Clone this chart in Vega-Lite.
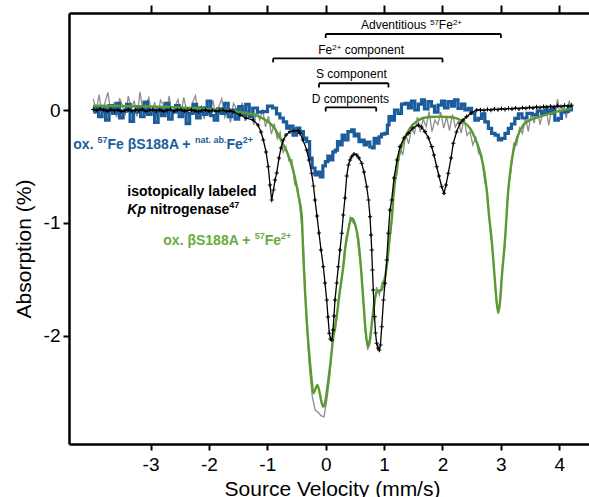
{
"$schema": "https://vega.github.io/schema/vega-lite/v6.json",
"width": 520, "height": 431,
"autosize": {"type": "none"},
"padding": {"left": 69, "top": 13, "right": 0, "bottom": 53},
"config": {
  "view": {"stroke": null},
  "axis": {"labelFont": "Liberation Sans", "titleFont": "Liberation Sans", "labelFontSize": 19, "titleFontSize": 21, "titleFontWeight": "normal", "labelColor": "#000", "titleColor": "#000", "domainColor": "#000", "tickColor": "#000", "domainWidth": 2.5, "tickWidth": 2, "tickSize": 6, "grid": false, "labelFlush": false, "labelOverlap": false}
},
"datasets": {
  "gray": [
{"v":-3.98,"a":0.098},{"v":-3.93,"a":-0.012},{"v":-3.88,"a":0.137},{"v":-3.83,"a":-0.043},{"v":-3.78,"a":0.066},{"v":-3.73,"a":0.156},{"v":-3.68,"a":-0.024},{"v":-3.63,"a":0.055},{"v":-3.58,"a":-0.065},{"v":-3.53,"a":0.105},
{"v":-3.48,"a":0.035},{"v":-3.43,"a":-0.036},{"v":-3.38,"a":0.124},{"v":-3.33,"a":0.003},{"v":-3.28,"a":0.083},{"v":-3.23,"a":-0.058},{"v":-3.18,"a":0.162},{"v":-3.13,"a":-0.009},{"v":-3.08,"a":0.041},{"v":-3.03,"a":0.111},
{"v":-2.98,"a":-0.040},{"v":-2.93,"a":0.069},{"v":-2.88,"a":-0.081},{"v":-2.83,"a":0.088},{"v":-2.78,"a":0.047},{"v":-2.73,"a":-0.024},{"v":-2.68,"a":0.126},{"v":-2.63,"a":-0.055},{"v":-2.58,"a":0.034},{"v":-2.53,"a":0.093},
{"v":-2.48,"a":-0.038},{"v":-2.43,"a":0.111},{"v":-2.38,"a":-0.011},{"v":-2.33,"a":-0.062},{"v":-2.28,"a":0.067},{"v":-2.23,"a":0.126},{"v":-2.18,"a":-0.036},{"v":-2.13,"a":0.032},{"v":-2.08,"a":-0.080},{"v":-2.03,"a":0.068},
{"v":-1.98,"a":-0.014},{"v":-1.93,"a":0.085},{"v":-1.88,"a":-0.067},{"v":-1.83,"a":0.031},{"v":-1.78,"a":0.099},{"v":-1.73,"a":-0.064},{"v":-1.68,"a":0.004},{"v":-1.63,"a":-0.109},{"v":-1.58,"a":0.059},{"v":-1.53,"a":0.015},
{"v":-1.48,"a":-0.069},{"v":-1.43,"a":0.066},{"v":-1.38,"a":-0.097},{"v":-1.33,"a":-0.012},{"v":-1.28,"a":0.023},{"v":-1.23,"a":-0.132},{"v":-1.18,"a":0.000},{"v":-1.13,"a":-0.092},{"v":-1.08,"a":0.006},{"v":-1.03,"a":-0.149},
{"v":-0.98,"a":-0.055},{"v":-0.93,"a":-0.214},{"v":-0.88,"a":-0.120},{"v":-0.83,"a":-0.255},{"v":-0.78,"a":-0.195},{"v":-0.73,"a":-0.375},{"v":-0.68,"a":-0.325},{"v":-0.63,"a":-0.450},{"v":-0.58,"a":-0.440},{"v":-0.53,"a":-0.660},
{"v":-0.48,"a":-0.685},{"v":-0.43,"a":-0.930},{"v":-0.38,"a":-1.210},{"v":-0.33,"a":-1.870},{"v":-0.28,"a":-2.280},{"v":-0.23,"a":-2.540},{"v":-0.18,"a":-2.660},{"v":-0.13,"a":-2.680},{"v":-0.08,"a":-2.710},{"v":-0.03,"a":-2.720},
{"v":0.02,"a":-2.570},{"v":0.07,"a":-2.360},{"v":0.12,"a":-2.020},{"v":0.17,"a":-1.940},{"v":0.22,"a":-1.670},{"v":0.27,"a":-1.540},{"v":0.32,"a":-1.250},{"v":0.37,"a":-1.140},{"v":0.42,"a":-0.950},{"v":0.47,"a":-1.000},
{"v":0.52,"a":-1.030},{"v":0.57,"a":-1.270},{"v":0.62,"a":-1.470},{"v":0.67,"a":-1.930},{"v":0.72,"a":-2.130},{"v":0.77,"a":-1.960},{"v":0.82,"a":-1.820},{"v":0.87,"a":-1.570},{"v":0.92,"a":-1.640},{"v":0.97,"a":-1.520},
{"v":1.02,"a":-1.510},{"v":1.07,"a":-1.230},{"v":1.12,"a":-1.080},{"v":1.17,"a":-0.660},{"v":1.22,"a":-0.575},{"v":1.27,"a":-0.332},{"v":1.32,"a":-0.400},{"v":1.37,"a":-0.210},{"v":1.42,"a":-0.300},{"v":1.47,"a":-0.165},
{"v":1.52,"a":-0.210},{"v":1.57,"a":-0.060},{"v":1.62,"a":-0.195},{"v":1.67,"a":-0.081},{"v":1.72,"a":-0.147},{"v":1.77,"a":-0.013},{"v":1.82,"a":-0.191},{"v":1.87,"a":-0.090},{"v":1.92,"a":-0.129},{"v":1.97,"a":-0.019},
{"v":2.02,"a":-0.160},{"v":2.07,"a":-0.061},{"v":2.12,"a":-0.183},{"v":2.17,"a":-0.038},{"v":2.22,"a":-0.152},{"v":2.27,"a":-0.101},{"v":2.32,"a":-0.204},{"v":2.37,"a":-0.072},{"v":2.42,"a":-0.226},{"v":2.47,"a":-0.192},
{"v":2.52,"a":-0.310},{"v":2.57,"a":-0.247},{"v":2.62,"a":-0.388},{"v":2.67,"a":-0.396},{"v":2.72,"a":-0.627},{"v":2.77,"a":-0.733},{"v":2.82,"a":-1.086},{"v":2.87,"a":-1.304},{"v":2.92,"a":-1.704},{"v":2.97,"a":-1.781},
{"v":3.02,"a":-1.420},{"v":3.07,"a":-1.202},{"v":3.12,"a":-0.713},{"v":3.17,"a":-0.552},{"v":3.22,"a":-0.295},{"v":3.27,"a":-0.310},{"v":3.32,"a":-0.160},{"v":3.37,"a":-0.208},{"v":3.42,"a":-0.069},{"v":3.47,"a":-0.190},
{"v":3.52,"a":-0.025},{"v":3.57,"a":-0.116},{"v":3.62,"a":0.032},{"v":3.67,"a":-0.129},{"v":3.72,"a":-0.021},{"v":3.77,"a":0.036},{"v":3.82,"a":-0.136},{"v":3.87,"a":0.022},{"v":3.92,"a":-0.050},{"v":3.97,"a":0.097},
{"v":4.02,"a":-0.066},{"v":4.07,"a":0.040},{"v":4.12,"a":-0.073},{"v":4.17,"a":0.083},{"v":4.22,"a":-0.005}
  ],
  "fit": [
{"v":-3.985,"a":0.038},{"v":-3.522,"a":0.035},{"v":-3.009,"a":0.031},{"v":-2.495,"a":0.022},{"v":-2.152,"a":0.013},{"v":-1.810,"a":0},{"v":-1.553,"a":-0.013},{"v":-1.382,"a":-0.027},{"v":-1.211,"a":-0.044},{"v":-1.091,"a":-0.071},
{"v":-0.983,"a":-0.104},{"v":-0.868,"a":-0.168},{"v":-0.753,"a":-0.281},{"v":-0.663,"a":-0.372},{"v":-0.582,"a":-0.488},{"v":-0.526,"a":-0.603},{"v":-0.469,"a":-0.754},{"v":-0.411,"a":-0.931},{"v":-0.384,"a":-1.285},{"v":-0.354,"a":-1.613},
{"v":-0.320,"a":-1.906},{"v":-0.269,"a":-2.234},{"v":-0.235,"a":-2.420},{"v":-0.212,"a":-2.511},{"v":-0.183,"a":-2.482},{"v":-0.144,"a":-2.438},{"v":-0.106,"a":-2.500},{"v":-0.072,"a":-2.589},{"v":-0.041,"a":-2.630},{"v":-0.012,"a":-2.597},
{"v":0.022,"a":-2.482},{"v":0.074,"a":-2.276},{"v":0.125,"a":-2.039},{"v":0.188,"a":-1.832},{"v":0.245,"a":-1.596},{"v":0.301,"a":-1.389},{"v":0.348,"a":-1.170},{"v":0.387,"a":-1.064},{"v":0.416,"a":-0.993},{"v":0.445,"a":-0.960},
{"v":0.476,"a":-0.975},{"v":0.519,"a":-1.046},{"v":0.558,"a":-1.152},{"v":0.604,"a":-1.401},{"v":0.644,"a":-1.684},{"v":0.682,"a":-1.950},{"v":0.707,"a":-2.057},{"v":0.729,"a":-2.098},{"v":0.759,"a":-2.039},{"v":0.793,"a":-1.879},
{"v":0.827,"a":-1.729},{"v":0.873,"a":-1.613},{"v":0.913,"a":-1.600},{"v":0.959,"a":-1.596},{"v":0.998,"a":-1.525},{"v":1.045,"a":-1.389},{"v":1.084,"a":-1.197},{"v":1.101,"a":-1.090},{"v":1.130,"a":-0.975},{"v":1.170,"a":-0.709},
{"v":1.221,"a":-0.505},{"v":1.272,"a":-0.370},{"v":1.358,"a":-0.248},{"v":1.443,"a":-0.160},{"v":1.546,"a":-0.106},{"v":1.666,"a":-0.071},{"v":1.786,"a":-0.062},{"v":1.957,"a":-0.059},{"v":2.094,"a":-0.062},{"v":2.243,"a":-0.074},
{"v":2.351,"a":-0.102},{"v":2.471,"a":-0.162},{"v":2.557,"a":-0.248},{"v":2.642,"a":-0.370},{"v":2.711,"a":-0.532},{"v":2.757,"a":-0.709},{"v":2.796,"a":-0.931},{"v":2.842,"a":-1.152},{"v":2.890,"a":-1.463},{"v":2.925,"a":-1.684},
{"v":2.955,"a":-1.800},{"v":2.985,"a":-1.702},{"v":3.019,"a":-1.463},{"v":3.070,"a":-1.152},{"v":3.127,"a":-0.709},{"v":3.164,"a":-0.532},{"v":3.212,"a":-0.370},{"v":3.276,"a":-0.248},{"v":3.384,"a":-0.133},{"v":3.498,"a":-0.089},
{"v":3.670,"a":-0.059},{"v":3.955,"a":-0.015},{"v":4.213,"a":0.015}
  ],
  "blue": [
{"v":-3.98,"a":-0.02},{"v":-3.92,"a":0.03},{"v":-3.86,"a":-0.06},{"v":-3.80,"a":0.01},{"v":-3.74,"a":-0.09},{"v":-3.68,"a":0.04},{"v":-3.62,"a":-0.03},{"v":-3.56,"a":0.06},{"v":-3.50,"a":-0.07},{"v":-3.44,"a":-0.01},
{"v":-3.38,"a":0.05},{"v":-3.32,"a":-0.10},{"v":-3.26,"a":-0.02},{"v":-3.20,"a":0.03},{"v":-3.14,"a":-0.06},{"v":-3.08,"a":0.07},{"v":-3.02,"a":-0.04},{"v":-2.96,"a":0.00},{"v":-2.90,"a":-0.11},{"v":-2.84,"a":0.02},
{"v":-2.78,"a":-0.05},{"v":-2.72,"a":0.06},{"v":-2.66,"a":-0.08},{"v":-2.60,"a":-0.02},{"v":-2.54,"a":0.04},{"v":-2.48,"a":-0.06},{"v":-2.42,"a":0.01},{"v":-2.36,"a":-0.12},{"v":-2.30,"a":-0.03},{"v":-2.24,"a":0.05},
{"v":-2.18,"a":-0.07},{"v":-2.12,"a":0.02},{"v":-2.06,"a":-0.04},{"v":-2.00,"a":0.08},{"v":-1.94,"a":-0.05},{"v":-1.88,"a":-0.09},{"v":-1.82,"a":0.01},{"v":-1.76,"a":-0.03},{"v":-1.70,"a":0.06},{"v":-1.64,"a":-0.06},
{"v":-1.58,"a":0.00},{"v":-1.52,"a":-0.08},{"v":-1.46,"a":0.03},{"v":-1.40,"a":-0.04},{"v":-1.34,"a":0.05},{"v":-1.28,"a":-0.06},
{"v":-1.211,"a":0.018},{"v":-1.125,"a":-0.018},{"v":-1.039,"a":-0.015},{"v":-0.954,"a":0.035},{"v":-0.868,"a":0.018},{"v":-0.817,"a":-0.035},{"v":-0.753,"a":-0.071},{"v":-0.697,"a":-0.106},{"v":-0.640,"a":-0.160},{"v":-0.594,"a":-0.142},
{"v":-0.526,"a":-0.222},{"v":-0.474,"a":-0.160},{"v":-0.411,"a":-0.192},{"v":-0.354,"a":-0.248},{"v":-0.298,"a":-0.281},{"v":-0.252,"a":-0.426},{"v":-0.212,"a":-0.514},{"v":-0.154,"a":-0.576},{"v":-0.115,"a":-0.550},{"v":-0.068,"a":-0.594},
{"v":-0.029,"a":-0.496},{"v":0.017,"a":-0.458},{"v":0.057,"a":-0.408},{"v":0.103,"a":-0.443},{"v":0.142,"a":-0.372},{"v":0.188,"a":-0.355},{"v":0.216,"a":-0.281},{"v":0.262,"a":-0.310},{"v":0.301,"a":-0.222},{"v":0.348,"a":-0.266},
{"v":0.416,"a":-0.192},{"v":0.473,"a":-0.177},{"v":0.502,"a":-0.230},{"v":0.553,"a":-0.213},{"v":0.587,"a":-0.281},{"v":0.644,"a":-0.266},{"v":0.673,"a":-0.310},{"v":0.724,"a":-0.284},{"v":0.788,"a":-0.328},{"v":0.815,"a":-0.337},
{"v":0.844,"a":-0.251},{"v":0.896,"a":-0.293},{"v":0.930,"a":-0.239},{"v":0.981,"a":-0.213},{"v":1.045,"a":-0.207},{"v":1.067,"a":-0.133},{"v":1.101,"a":-0.059},{"v":1.152,"a":-0.089},{"v":1.204,"a":0.000},{"v":1.272,"a":-0.029},
{"v":1.324,"a":0.053},{"v":1.387,"a":0.059},{"v":1.443,"a":0.018},{"v":1.495,"a":0.080},{"v":1.558,"a":0.000},{"v":1.615,"a":0.053},{"v":1.666,"a":0.089},{"v":1.717,"a":0.009},{"v":1.786,"a":0.074},{"v":1.837,"a":0.035},
{"v":1.889,"a":-0.018},{"v":1.957,"a":0.044},{"v":2.009,"a":0.080},{"v":2.060,"a":0.018},{"v":2.128,"a":0.074},{"v":2.180,"a":0.035},{"v":2.231,"a":0.089},{"v":2.300,"a":0.015},{"v":2.351,"a":0.053},{"v":2.414,"a":0.000},
{"v":2.471,"a":0.015},{"v":2.522,"a":-0.027},{"v":2.586,"a":-0.089},{"v":2.642,"a":-0.074},{"v":2.693,"a":-0.035},{"v":2.757,"a":-0.106},{"v":2.813,"a":-0.162},{"v":2.870,"a":-0.207},{"v":2.928,"a":-0.222},{"v":2.985,"a":-0.266},
{"v":3.041,"a":-0.251},{"v":3.099,"a":-0.207},{"v":3.156,"a":-0.162},{"v":3.207,"a":-0.124},{"v":3.271,"a":-0.074},{"v":3.327,"a":-0.035},{"v":3.396,"a":-0.071},{"v":3.498,"a":-0.029},{"v":3.584,"a":-0.044},{"v":3.670,"a":-0.009},
{"v":3.726,"a":-0.029},{"v":3.789,"a":0.000},{"v":3.841,"a":-0.027},{"v":3.892,"a":0.009},{"v":3.955,"a":-0.089},{"v":4.012,"a":-0.074},{"v":4.063,"a":-0.018},{"v":4.127,"a":-0.015},{"v":4.183,"a":0.029},{"v":4.235,"a":0.000}
  ],
  "kp": [
{"v":-3.98,"a":0.005},{"v":-3.92,"a":-0.003},{"v":-3.86,"a":0.008},{"v":-3.80,"a":0.000},{"v":-3.74,"a":-0.010},{"v":-3.68,"a":0.004},{"v":-3.62,"a":-0.006},{"v":-3.56,"a":0.002},{"v":-3.50,"a":-0.012},{"v":-3.44,"a":-0.004},
{"v":-3.38,"a":0.003},{"v":-3.32,"a":-0.008},{"v":-3.26,"a":0.001},{"v":-3.20,"a":-0.005},{"v":-3.14,"a":0.006},{"v":-3.08,"a":-0.011},{"v":-3.02,"a":-0.002},{"v":-2.96,"a":0.004},{"v":-2.90,"a":-0.007},{"v":-2.84,"a":0.000},
{"v":-2.78,"a":-0.013},{"v":-2.72,"a":-0.003},{"v":-2.66,"a":0.005},{"v":-2.60,"a":-0.009},{"v":-2.54,"a":-0.001},{"v":-2.48,"a":0.003},{"v":-2.42,"a":-0.010},{"v":-2.36,"a":-0.004},{"v":-2.30,"a":0.002},{"v":-2.24,"a":-0.008},
{"v":-2.18,"a":-0.014},{"v":-2.12,"a":-0.005},{"v":-2.06,"a":0.001},{"v":-2.00,"a":-0.009},{"v":-1.94,"a":-0.003},{"v":-1.88,"a":-0.012},{"v":-1.82,"a":-0.006},{"v":-1.76,"a":-0.002},{"v":-1.70,"a":-0.011},{"v":-1.64,"a":-0.008},
{"v":-1.587,"a":-0.015},{"v":-1.467,"a":-0.044},{"v":-1.365,"a":-0.071},{"v":-1.240,"a":-0.089},{"v":-1.159,"a":-0.133},{"v":-1.108,"a":-0.195},{"v":-1.068,"a":-0.266},{"v":-1.022,"a":-0.372},{"v":-0.983,"a":-0.503},{"v":-0.954,"a":-0.665},
{"v":-0.925,"a":-0.798},{"v":-0.894,"a":-0.709},{"v":-0.868,"a":-0.621},{"v":-0.839,"a":-0.558},{"v":-0.800,"a":-0.426},{"v":-0.765,"a":-0.337},{"v":-0.726,"a":-0.266},{"v":-0.680,"a":-0.222},{"v":-0.611,"a":-0.192},{"v":-0.543,"a":-0.184},
{"v":-0.469,"a":-0.184},{"v":-0.440,"a":-0.207},{"v":-0.389,"a":-0.266},{"v":-0.325,"a":-0.355},{"v":-0.286,"a":-0.443},{"v":-0.240,"a":-0.561},{"v":-0.209,"a":-0.674},{"v":-0.183,"a":-0.798},{"v":-0.149,"a":-0.940},{"v":-0.115,"a":-1.090},
{"v":-0.080,"a":-1.241},{"v":-0.041,"a":-1.389},{"v":-0.012,"a":-1.534},{"v":0.017,"a":-1.684},{"v":0.039,"a":-1.835},{"v":0.062,"a":-1.979},{"v":0.082,"a":-2.030},{"v":0.103,"a":-2.039},{"v":0.125,"a":-1.950},{"v":0.142,"a":-1.826},
{"v":0.159,"a":-1.684},{"v":0.188,"a":-1.534},{"v":0.216,"a":-1.389},{"v":0.245,"a":-1.241},{"v":0.274,"a":-1.093},{"v":0.301,"a":-0.931},{"v":0.330,"a":-0.780},{"v":0.360,"a":-0.585},{"v":0.390,"a":-0.488},{"v":0.416,"a":-0.443},
{"v":0.445,"a":-0.414},{"v":0.485,"a":-0.390},{"v":0.531,"a":-0.399},{"v":0.570,"a":-0.426},{"v":0.616,"a":-0.472},{"v":0.656,"a":-0.550},{"v":0.702,"a":-0.680},{"v":0.733,"a":-0.798},{"v":0.759,"a":-0.946},{"v":0.776,"a":-1.108},
{"v":0.788,"a":-1.241},{"v":0.801,"a":-1.418},{"v":0.815,"a":-1.596},{"v":0.836,"a":-1.832},{"v":0.853,"a":-1.977},{"v":0.873,"a":-2.068},{"v":0.896,"a":-2.110},{"v":0.918,"a":-2.128},{"v":0.938,"a":-2.083},{"v":0.959,"a":-1.921},
{"v":0.990,"a":-1.684},{"v":1.015,"a":-1.536},{"v":1.045,"a":-1.330},{"v":1.072,"a":-1.093},{"v":1.101,"a":-0.887},{"v":1.130,"a":-0.798},{"v":1.170,"a":-0.603},{"v":1.221,"a":-0.443},{"v":1.272,"a":-0.325},{"v":1.341,"a":-0.248},
{"v":1.414,"a":-0.207},{"v":1.495,"a":-0.160},{"v":1.586,"a":-0.133},{"v":1.640,"a":-0.151},{"v":1.700,"a":-0.192},{"v":1.760,"a":-0.248},{"v":1.815,"a":-0.325},{"v":1.854,"a":-0.399},{"v":1.901,"a":-0.503},{"v":1.940,"a":-0.585},
{"v":1.986,"a":-0.680},{"v":2.026,"a":-0.738},{"v":2.060,"a":-0.665},{"v":2.099,"a":-0.561},{"v":2.146,"a":-0.426},{"v":2.185,"a":-0.295},{"v":2.240,"a":-0.195},{"v":2.300,"a":-0.118},{"v":2.351,"a":-0.089},{"v":2.414,"a":-0.059},
{"v":2.488,"a":-0.027},{"v":2.586,"a":0.000},
{"v":2.65,"a":0.002},{"v":2.71,"a":-0.004},{"v":2.77,"a":0.005},{"v":2.83,"a":0.000},{"v":2.89,"a":0.008},{"v":2.95,"a":0.003},{"v":3.01,"a":0.012},{"v":3.07,"a":0.006},{"v":3.13,"a":0.014},{"v":3.19,"a":0.009},
{"v":3.25,"a":0.017},{"v":3.31,"a":0.011},{"v":3.37,"a":0.020},{"v":3.43,"a":0.015},{"v":3.49,"a":0.024},{"v":3.55,"a":0.018},{"v":3.61,"a":0.027},{"v":3.67,"a":0.021},{"v":3.73,"a":0.030},{"v":3.79,"a":0.025},
{"v":3.85,"a":0.033},{"v":3.91,"a":0.028},{"v":3.97,"a":0.036},{"v":4.03,"a":0.031},{"v":4.09,"a":0.040},{"v":4.15,"a":0.034},{"v":4.21,"a":0.042}
  ],
  "brackets": [
{"label":"Adventitious 57Fe2+","v":0,"v2":3,"a":0.674,"a2":0.638},
{"label":"Fe2+ component","v":-0.9,"v2":2.0,"a":0.458,"a2":0.422},
{"label":"S component","v":-0.115,"v2":1.075,"a":0.237,"a2":0.200},
{"label":"D components","v":0,"v2":0.865,"a":0.024,"a2":-0.013}
  ],
  "labels": [
{"v":-4.322,"a":-0.346,"t":"ox.","s":"ox57","k":"main"},
{"v":-3.738,"a":-0.346,"t":"Fe βS188A +","s":"ox57","k":"main"},
{"v":-1.700,"a":-0.346,"t":"Fe","s":"ox57","k":"main"},
{"v":-3.909,"a":-0.29,"t":"57","s":"ox57","k":"sup"},
{"v":-2.237,"a":-0.29,"t":"nat. ab.","s":"ox57","k":"sup"},
{"v":-1.421,"a":-0.29,"t":"2+","s":"ox57","k":"sup"},
{"v":-3.397,"a":-0.762,"t":"isotopically labeled","s":"kp","k":"main"},
{"v":-3.397,"a":-0.922,"t":"Kp","s":"kp","k":"ital"},
{"v":-3.010,"a":-0.922,"t":"nitrogenase","s":"kp","k":"main"},
{"v":-1.651,"a":-0.869,"t":"47","s":"kp","k":"sup"},
{"v":-2.781,"a":-1.200,"t":"ox. βS188A +","s":"ox","k":"main"},
{"v":-1.045,"a":-1.200,"t":"Fe","s":"ox","k":"main"},
{"v":-1.216,"a":-1.143,"t":"57","s":"ox","k":"sup"},
{"v":-0.765,"a":-1.143,"t":"2+","s":"ox","k":"sup"},
{"v":0.604,"a":0.718,"t":"Adventitious","s":"br","k":"br"},
{"v":1.938,"a":0.718,"t":"Fe","s":"br","k":"br"},
{"v":1.786,"a":0.754,"t":"57","s":"br","k":"brsup"},
{"v":2.178,"a":0.754,"t":"2+","s":"br","k":"brsup"},
{"v":-0.127,"a":0.496,"t":"Fe","s":"br","k":"br"},
{"v":0.113,"a":0.532,"t":"2+","s":"br","k":"brsup"},
{"v":0.325,"a":0.496,"t":"component","s":"br","k":"br"},
{"v":-0.166,"a":0.281,"t":"S component","s":"br","k":"br"},
{"v":-0.240,"a":0.065,"t":"D components","s":"br","k":"br"}
  ]
},
"encoding": {
  "x": {"field": "v", "type": "quantitative", "scale": {"domain": [-4.396, 4.509], "nice": false, "zero": false}, "axis": null},
  "y": {"field": "a", "type": "quantitative", "scale": {"domain": [-2.961, 0.86], "nice": false, "zero": false}, "axis": null}
},
"layer": [
  {"data": {"name": "gray"}, "mark": {"type": "line", "color": "#8e8e8e", "strokeWidth": 1.3},
   "encoding": {
     "x": {"field": "v", "type": "quantitative", "scale": {"domain": [-4.396, 4.509], "nice": false, "zero": false},
           "axis": {"orient": "bottom", "values": [-3,-2,-1,0,1,2,3,4], "labelExpr": "'' + datum.value", "labelPadding": 5, "title": "Source Velocity (mm/s)", "titleX": 263, "titleY": 51, "titleBaseline": "alphabetic", "titleAlign": "center"}},
     "y": {"field": "a", "type": "quantitative", "scale": {"domain": [-2.961, 0.86], "nice": false, "zero": false},
           "axis": {"orient": "left", "values": [0,-1,-2], "labelExpr": "'' + datum.value", "labelPadding": 3, "title": "Absorption (%)", "titleX": -39, "titleY": 235.5, "titleAngle": -90, "titleBaseline": "alphabetic", "titleAlign": "center"}}
   }},
  {"data": {"name": "blue"}, "mark": {"type": "line", "interpolate": "step", "color": "#1b5c9c", "strokeWidth": 3.2},
   "encoding": {
     "x": {"field": "v", "type": "quantitative", "scale": {"domain": [-4.396, 4.509], "nice": false, "zero": false},
           "axis": {"orient": "top", "values": [-3,-2,-1,0,1,2,3,4], "labels": false, "title": null, "tickSize": 8}}
   }},
  {"data": {"name": "fit"}, "mark": {"type": "line", "interpolate": "monotone", "color": "#5b9a31", "strokeWidth": 2.4}},
  {"data": {"name": "kp"}, "mark": {"type": "line", "color": "#000000", "strokeWidth": 1.3}},
  {"data": {"name": "kp"}, "mark": {"type": "point", "shape": "M-1,0H1M0,-1V1", "filled": false, "stroke": "#000000", "strokeWidth": 1.1, "size": 18, "opacity": 1}},
  {"data": {"name": "brackets"}, "mark": {"type": "rule", "color": "#000", "strokeWidth": 1.8},
   "encoding": {"x2": {"field": "v2"}}},
  {"data": {"name": "brackets"}, "transform": [{"fold": ["v", "v2"], "as": ["end", "ev"]}],
   "mark": {"type": "rule", "color": "#000", "strokeWidth": 1.8},
   "encoding": {"x": {"field": "ev", "type": "quantitative", "scale": {"domain": [-4.396, 4.509], "nice": false, "zero": false}, "axis": null}, "y2": {"field": "a2"}}},
  {"data": {"name": "labels"}, "transform": [{"filter": "datum.k === 'main'"}],
   "mark": {"type": "text", "font": "Liberation Sans", "fontWeight": "bold", "fontSize": 14, "align": "left", "baseline": "alphabetic"},
   "encoding": {"text": {"field": "t"}, "color": {"field": "s", "type": "nominal", "scale": {"domain": ["ox57", "kp", "ox", "br"], "range": ["#1b5c9c", "#000000", "#6aab3c", "#000000"]}, "legend": null}}},
  {"data": {"name": "labels"}, "transform": [{"filter": "datum.k === 'ital'"}],
   "mark": {"type": "text", "font": "Liberation Sans", "fontWeight": "bold", "fontStyle": "italic", "fontSize": 14, "align": "left", "baseline": "alphabetic"},
   "encoding": {"text": {"field": "t"}, "color": {"field": "s", "type": "nominal", "scale": {"domain": ["ox57", "kp", "ox", "br"], "range": ["#1b5c9c", "#000000", "#6aab3c", "#000000"]}, "legend": null}}},
  {"data": {"name": "labels"}, "transform": [{"filter": "datum.k === 'sup'"}],
   "mark": {"type": "text", "font": "Liberation Sans", "fontWeight": "bold", "fontSize": 9, "align": "left", "baseline": "alphabetic"},
   "encoding": {"text": {"field": "t"}, "color": {"field": "s", "type": "nominal", "scale": {"domain": ["ox57", "kp", "ox", "br"], "range": ["#1b5c9c", "#000000", "#6aab3c", "#000000"]}, "legend": null}}},
  {"data": {"name": "labels"}, "transform": [{"filter": "datum.k === 'br'"}],
   "mark": {"type": "text", "font": "Liberation Sans", "fontSize": 12, "align": "left", "baseline": "alphabetic", "color": "#000"},
   "encoding": {"text": {"field": "t"}}},
  {"data": {"name": "labels"}, "transform": [{"filter": "datum.k === 'brsup'"}],
   "mark": {"type": "text", "font": "Liberation Sans", "fontSize": 8, "align": "left", "baseline": "alphabetic", "color": "#000"},
   "encoding": {"text": {"field": "t"}}}
],
"resolve": {"axis": {"x": "independent", "y": "independent"}}
}
